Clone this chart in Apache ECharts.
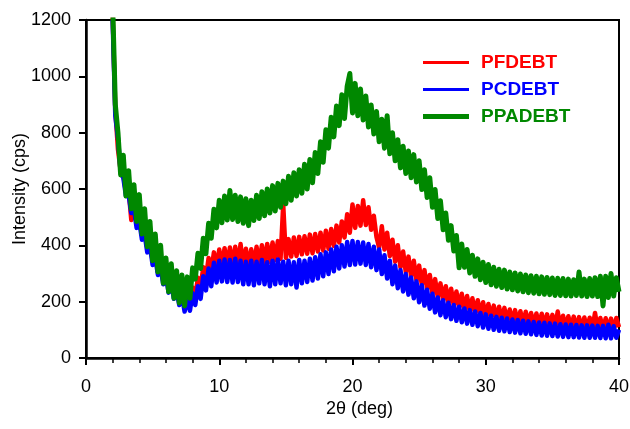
<!DOCTYPE html>
<html>
<head>
<meta charset="utf-8">
<script src="https://cdn.jsdelivr.net/npm/echarts@6/dist/echarts.min.js"></script>
<style>
html,body{margin:0;padding:0;background:#fff;}
#chart{width:630px;height:429px;}
</style>
</head>
<body>
<div id="chart"></div>
<script>
// 2-theta angles (deg)
var angle = [2.0,2.2,2.4,2.6,2.8,3.0,3.2,3.4,3.6,3.8,4.0,4.2,4.4,4.6,4.8,5.0,5.2,5.4,5.6,5.8,
6.0,6.2,6.4,6.6,6.8,7.0,7.2,7.4,7.6,7.8,8.0,8.2,8.4,8.6,8.8,9.0,9.2,9.4,9.6,9.8,
10.0,10.2,10.4,10.6,10.8,11.0,11.2,11.4,11.6,11.8,12.0,12.2,12.4,12.6,12.8,13.0,13.2,13.4,13.6,13.8,
14.0,14.2,14.4,14.6,14.8,15.0,15.2,15.4,15.6,15.8,16.0,16.2,16.4,16.6,16.8,17.0,17.2,17.4,17.6,17.8,
18.0,18.2,18.4,18.6,18.8,19.0,19.2,19.4,19.6,19.8,20.0,20.2,20.4,20.6,20.8,21.0,21.2,21.4,21.6,21.8,
22.0,22.2,22.4,22.6,22.8,23.0,23.2,23.4,23.6,23.8,24.0,24.2,24.4,24.6,24.8,25.0,25.2,25.4,25.6,25.8,
26.0,26.2,26.4,26.6,26.8,27.0,27.2,27.4,27.6,27.8,28.0,28.2,28.4,28.6,28.8,29.0,29.2,29.4,29.6,29.8,
30.0,30.2,30.4,30.6,30.8,31.0,31.2,31.4,31.6,31.8,32.0,32.2,32.4,32.6,32.8,33.0,33.2,33.4,33.6,33.8,
34.0,34.2,34.4,34.6,34.8,35.0,35.2,35.4,35.6,35.8,36.0,36.2,36.4,36.6,36.8,37.0,37.2,37.4,37.6,37.8,
38.0,38.2,38.4,38.6,38.8,39.0,39.2,39.4,39.6,39.8,40.0];

// PFDEBT intensity (cps)
var pfdebt = [1220,880,740,665,650,590,595,490,540,480,500,435,455,390,410,345,370,305,335,272,
302,245,278,222,255,200,235,182,222,188,250,218,285,250,322,285,355,308,375,318,
385,325,390,328,392,326,395,328,405,325,388,322,386,326,395,332,400,338,405,342,
410,348,415,352,545,355,422,360,428,362,430,368,432,370,438,372,440,378,445,382,
452,388,458,398,470,410,485,428,510,445,545,462,540,470,560,472,535,455,505,430,
392,468,385,445,362,420,342,400,322,378,305,360,290,345,275,328,260,312,245,295,
228,280,215,265,205,255,195,246,186,236,178,228,172,220,165,212,158,205,152,198,
146,192,142,186,138,182,133,178,130,172,127,170,124,166,121,164,119,160,118,158,
116,157,114,155,112,153,110,165,110,150,108,148,106,147,105,145,104,144,103,143,
102,160,102,142,100,141,100,140,99,142,110];

// PCDEBT intensity (cps)
var pcdebt = [1200,860,780,660,640,575,580,515,530,462,485,420,440,375,398,330,355,295,320,262,
290,232,265,210,240,188,222,165,210,168,230,188,255,210,290,240,318,255,338,268,
345,272,350,270,348,268,352,270,345,262,342,262,345,258,342,265,348,262,340,255,
345,262,350,265,342,258,345,262,340,250,348,265,345,270,352,275,358,282,368,290,
375,298,385,308,395,318,400,325,412,330,415,332,412,335,410,330,405,322,395,312,
385,298,365,282,345,262,328,248,312,236,298,225,286,212,272,198,258,186,242,175,
228,162,215,152,205,145,196,138,188,132,182,127,176,122,170,118,165,113,160,108,
155,104,150,100,146,97,143,95,140,92,137,90,135,88,132,86,130,84,128,82,
126,80,125,79,123,78,122,76,120,75,119,74,118,74,117,73,116,72,116,72,
115,72,114,71,114,70,118,70,113,72,100];

// PPADEBT intensity (cps)
var ppadebt = [1260,900,800,650,720,575,665,530,615,485,580,440,530,395,485,345,440,305,400,265,
355,235,335,212,310,195,295,185,288,212,320,280,372,318,425,370,478,425,528,462,
560,480,575,490,595,492,578,485,572,478,565,470,560,488,578,495,590,505,600,515,
612,522,620,535,628,548,645,560,658,575,668,585,688,600,705,622,730,655,768,695,
810,745,855,785,895,825,935,850,965,1010,870,975,860,955,845,930,820,898,795,875,
768,848,745,860,725,800,700,775,675,752,655,735,640,722,625,700,598,668,570,640,
535,598,495,558,455,515,418,470,380,435,320,405,322,385,302,365,290,352,278,340,
268,332,260,322,255,315,250,312,245,305,242,302,238,298,235,295,232,292,230,290,
228,288,226,286,225,284,222,283,222,282,221,280,220,278,222,305,220,280,218,282,
220,285,218,290,185,290,215,300,220,285,235];

var seriesNames = ['PFDEBT','PCDEBT','PPADEBT'];
var seriesColors = ['#ff0000','#0000ff','#008800'];
var seriesWidths = [4.5, 4.5, 5];
var seriesValues = [pfdebt, pcdebt, ppadebt];
var xTicks = [0,10,20,30,40];
var yTicks = [0,200,400,600,800,1000,1200];

var FONT = 'Arial, "Liberation Sans", sans-serif';
var chart = echarts.init(document.getElementById('chart'), null, {renderer:'canvas'});

var series = seriesNames.map(function(n, k){
  return {
    name: n, type: 'line', showSymbol: false, symbol: 'none',
    clip: true, animation: false, z: 2 + k,
    lineStyle: {color: seriesColors[k], width: seriesWidths[k], join: 'round'},
    itemStyle: {color: seriesColors[k]},
    data: angle.map(function(a, i){ return [a, seriesValues[k][i]]; })
  };
});

var legendTops = [53, 80, 107];
var legendHeights = [3, 3, 5];
var legends = seriesNames.map(function(n, k){
  return {
    data: [n], left: 423, top: legendTops[k], padding: 0,
    icon: 'rect', itemWidth: 46, itemHeight: legendHeights[k],
    selectedMode: false,
    textStyle: {color: seriesColors[k], fontFamily: FONT, fontSize: 19, fontWeight: 'bold', padding: [0,0,0,7]}
  };
});

chart.setOption({
  backgroundColor: '#ffffff',
  animation: false,
  textStyle: {fontFamily: FONT},
  grid: {left: 86, right: 11, top: 20, bottom: 71, show: true, borderColor: '#000', borderWidth: 2,
         backgroundColor: 'transparent', containLabel: false, outerBoundsMode: 'none'},
  legend: legends,
  xAxis: {
    type: 'value', min: xTicks[0], max: xTicks[xTicks.length-1], interval: 10,
    name: '2θ (deg)', nameLocation: 'middle', nameGap: 42, nameMoveOverlap: false,
    nameTextStyle: {color: '#000', fontSize: 18, fontFamily: FONT, padding: [0,0,0,14]},
    axisLine: {show: true, onZero: false, lineStyle: {color: '#000', width: 2.5}},
    axisTick: {show: true, inside: false, length: 7, lineStyle: {color: '#000', width: 2}},
    minorTick: {show: true, splitNumber: 5, length: 5, lineStyle: {color: '#000', width: 1.5}},
    axisLabel: {color: '#000', fontSize: 18, fontFamily: FONT, margin: 20, formatter: function(v){ return String(v); }},
    splitLine: {show: false}
  },
  yAxis: {
    type: 'value', min: yTicks[0], max: yTicks[yTicks.length-1], interval: 200,
    name: 'Intensity (cps)', nameLocation: 'middle', nameGap: 57, nameRotate: 90, nameMoveOverlap: false,
    nameTextStyle: {color: '#000', fontSize: 18, fontFamily: FONT},
    axisLine: {show: true, onZero: false, lineStyle: {color: '#000', width: 2.5}},
    axisTick: {show: true, inside: false, length: 7, lineStyle: {color: '#000', width: 2}},
    axisLabel: {color: '#000', fontSize: 18, fontFamily: FONT, margin: 15, formatter: function(v){ return String(v); }},
    splitLine: {show: false}
  },
  series: series
});
</script>
</body>
</html>
